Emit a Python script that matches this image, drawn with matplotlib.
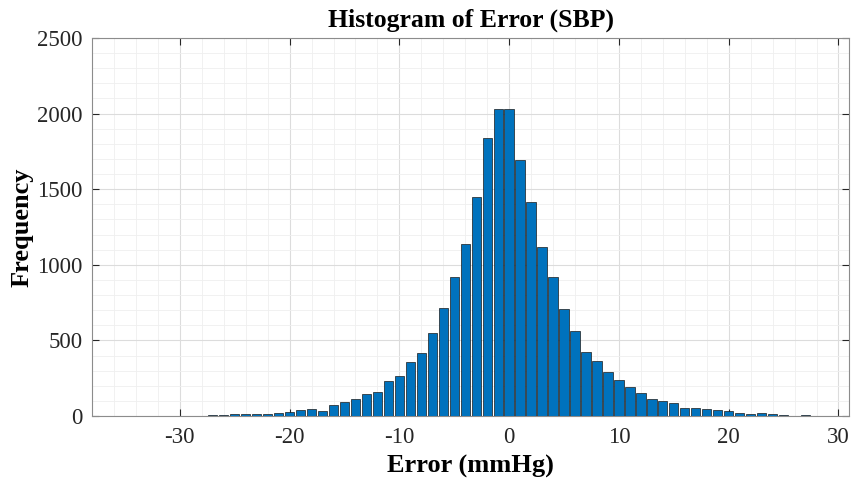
import matplotlib
matplotlib.use('Agg')
import matplotlib.pyplot as plt
import numpy as np
from matplotlib.ticker import MultipleLocator

# bin centres (mmHg) and counts
err_bins = [-27, -26, -25, -24, -23, -22, -21, -20, -19, -18, -17, -16, -15, -14, -13,
            -12, -11, -10, -9, -8, -7, -6, -5, -4, -3, -2, -1, 0, 1, 2,
            3, 4, 5, 6, 7, 8, 9, 10, 11, 12, 13, 14, 15, 16, 17,
            18, 19, 20, 21, 22, 23, 24, 25, 27]
counts = [4, 8, 10, 12, 14, 16, 22, 26, 42, 45, 36, 72, 90, 112, 145,
          161, 232, 267, 355, 419, 547, 716, 921, 1138, 1446, 1837, 2033, 2028, 1693, 1417,
          1115, 917, 706, 564, 425, 366, 289, 238, 190, 154, 110, 97, 84, 55, 52,
          44, 38, 35, 17, 11, 17, 10, 8, 5]

plt.rcParams['font.family'] = ['Liberation Serif', 'DejaVu Serif']
plt.rcParams['axes.unicode_minus'] = False

fig = plt.figure(figsize=(8.52, 4.84), dpi=100)
ax = fig.add_axes([0.108, 0.1405, 0.889, 0.781])

ax.bar(err_bins, counts, width=0.85, color='#0072BD', edgecolor='#1a1a1a', linewidth=0.5, zorder=3)

ax.set_xlim(-38, 31)
ax.set_ylim(0, 2500)
ax.xaxis.set_major_locator(MultipleLocator(10))
ax.xaxis.set_minor_locator(MultipleLocator(2))
ax.yaxis.set_major_locator(MultipleLocator(500))
ax.yaxis.set_minor_locator(MultipleLocator(100))

ax.grid(which='major', color='#dcdcdc', linewidth=0.8, zorder=0)
ax.grid(which='minor', color='#efefef', linewidth=0.6, zorder=0)
ax.set_axisbelow(True)

ax.tick_params(which='both', direction='in', top=True, right=True, labelsize=16.5,
               colors='#262626')
ax.tick_params(which='major', length=5)
ax.tick_params(axis='x', which='major', pad=8)
ax.tick_params(axis='y', which='major', pad=7)
ax.tick_params(which='minor', length=0)
for s in ax.spines.values():
    s.set_color('#8c8c8c')
    s.set_linewidth(0.8)

ax.set_xlabel('Error (mmHg)', fontsize=19, fontweight='bold', labelpad=5)
ax.set_ylabel('Frequency', fontsize=19, fontweight='bold', labelpad=2)
ax.set_title('Histogram of Error (SBP)', fontsize=18.5, fontweight='bold', pad=8)

fig.savefig('out.png', dpi=100)
